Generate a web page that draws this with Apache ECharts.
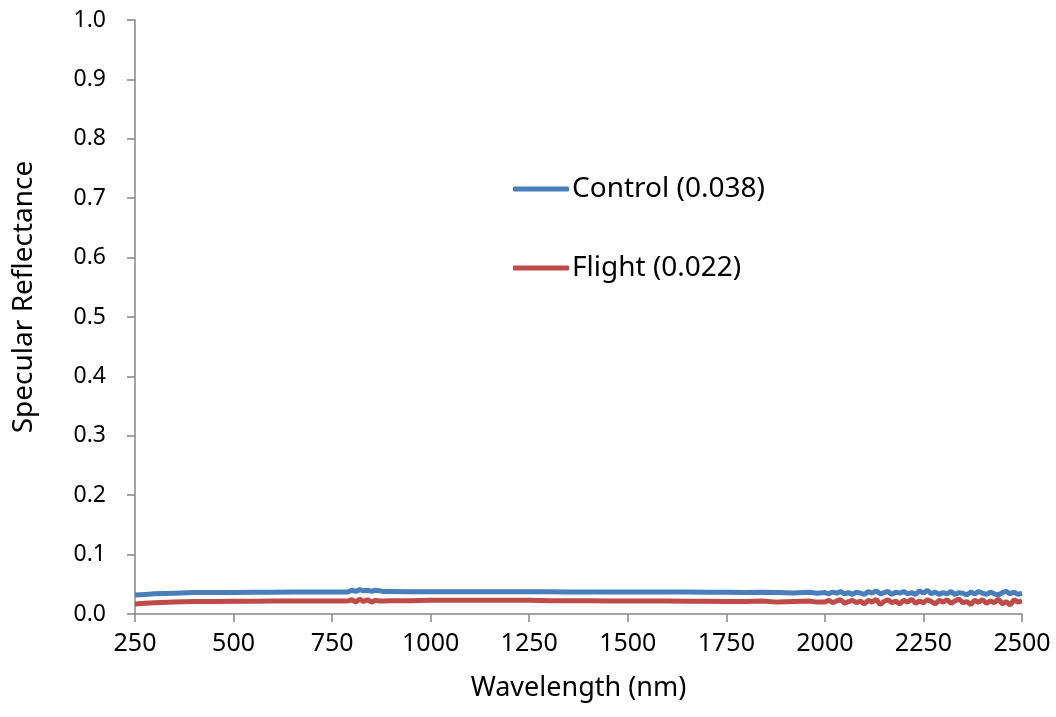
<!DOCTYPE html>
<html>
<head>
<meta charset="utf-8">
<script src="https://cdn.jsdelivr.net/npm/echarts@6/dist/echarts.min.js"></script>
<style>
  html, body { margin: 0; padding: 0; background: #fff; }
  #chart { width: 1056px; height: 717px; }
</style>
</head>
<body>
<div id="chart"></div>
<script>
// wavelength samples (nm)
const wavelength = [
  250, 275, 300, 350, 400, 450, 500, 550, 600, 650, 700, 750, 790,
  800, 810, 820, 830, 840, 850, 860, 870, 880, 900, 950,
  1000, 1050, 1100, 1150, 1200, 1250, 1300, 1350, 1400, 1450, 1500,
  1550, 1600, 1650, 1700, 1750, 1800, 1840, 1880, 1920, 1960, 1980,
  2000, 2010, 2020, 2030, 2040, 2050, 2060, 2070, 2080, 2090,
  2100, 2110, 2120, 2130, 2140, 2150, 2160, 2170, 2180, 2190,
  2200, 2210, 2220, 2230, 2240, 2250, 2260, 2270, 2280, 2290,
  2300, 2310, 2320, 2330, 2340, 2350, 2360, 2370, 2380, 2390,
  2400, 2410, 2420, 2430, 2440, 2450, 2460, 2470, 2480, 2490,
  2500
]
const control = [
  0.032, 0.033, 0.034, 0.035, 0.036, 0.036, 0.036, 0.0365, 0.0365, 0.037, 0.037, 0.037, 0.037,
  0.040, 0.038, 0.041, 0.039, 0.040, 0.038, 0.040, 0.039, 0.038, 0.038, 0.0375,
  0.0375, 0.0375, 0.0375, 0.0375, 0.0375, 0.0375, 0.0375, 0.037, 0.037, 0.037, 0.037,
  0.037, 0.037, 0.037, 0.0365, 0.0365, 0.036, 0.0365, 0.036, 0.0355, 0.0365, 0.035,
  0.036, 0.034, 0.037, 0.035, 0.038, 0.034, 0.036, 0.033, 0.037, 0.035,
  0.033, 0.038, 0.035, 0.039, 0.034, 0.036, 0.038, 0.033, 0.037, 0.035,
  0.038, 0.034, 0.036, 0.033, 0.039, 0.035, 0.040, 0.034, 0.037, 0.033,
  0.036, 0.034, 0.038, 0.033, 0.036, 0.035, 0.032, 0.037, 0.034, 0.038,
  0.035, 0.033, 0.037, 0.034, 0.032, 0.036, 0.038, 0.034, 0.037, 0.033,
  0.035
]
const flight = [
  0.017, 0.018, 0.019, 0.020, 0.021, 0.021, 0.0215, 0.0215, 0.022, 0.022, 0.022, 0.022, 0.022,
  0.024, 0.020, 0.025, 0.021, 0.024, 0.020, 0.023, 0.022, 0.022, 0.0225, 0.0225,
  0.023, 0.023, 0.023, 0.023, 0.023, 0.023, 0.0225, 0.0225, 0.0225, 0.022, 0.022,
  0.022, 0.022, 0.0215, 0.0215, 0.021, 0.021, 0.022, 0.020, 0.021, 0.022, 0.020,
  0.020, 0.023, 0.019, 0.022, 0.024, 0.018, 0.021, 0.023, 0.019, 0.022,
  0.017, 0.023, 0.020, 0.025, 0.016, 0.021, 0.024, 0.019, 0.022, 0.017,
  0.023, 0.020, 0.025, 0.018, 0.022, 0.019, 0.024, 0.021, 0.017, 0.023,
  0.020, 0.024, 0.018, 0.022, 0.025, 0.019, 0.021, 0.016, 0.023, 0.020,
  0.024, 0.018, 0.022, 0.019, 0.025, 0.017, 0.021, 0.015, 0.024, 0.020,
  0.022
]
const seriesNames = ['Control (0.038)', 'Flight (0.022)']
const seriesColors = ['#4a7ebb', '#be4b48']

const font = 'Noto Sans'
const axisGray = '#868686'

let myChart = echarts.init(document.getElementById('chart'))
myChart.setOption({
  animation: false,
  textStyle: { fontFamily: font },
  grid: {
    left: 135,
    right: 34,
    top: 20,
    bottom: 103
  },
  legend: {
    orient: 'vertical',
    left: 508,
    top: 170,
    itemGap: 51,
    itemWidth: 56,
    itemHeight: 5,
    icon: 'roundRect',
    textStyle: {
      fontSize: 28,
      color: '#000',
      fontFamily: font,
      padding: [0, 0, 0, -2]
    },
    data: seriesNames
  },
  xAxis: {
    type: 'value',
    min: 250,
    max: 2500,
    interval: 250,
    name: 'Wavelength (nm)',
    nameLocation: 'middle',
    nameGap: 61,
    nameTextStyle: { fontSize: 27, color: '#000' },
    axisLine: { lineStyle: { color: axisGray, width: 1.5 } },
    axisTick: { length: 8, lineStyle: { color: axisGray, width: 1.5 } },
    axisLabel: {
      fontSize: 25,
      color: '#000',
      margin: 17,
      formatter: v => String(v)
    },
    splitLine: { show: false }
  },
  yAxis: {
    type: 'value',
    min: 0,
    max: 1,
    interval: 0.1,
    name: 'Specular Reflectance',
    nameLocation: 'middle',
    nameGap: 97,
    nameTextStyle: { fontSize: 28, color: '#000', padding: [0, 0, 0, 40] },
    axisLine: { show: true, lineStyle: { color: axisGray, width: 1.5 } },
    axisTick: { show: true, length: 8, lineStyle: { color: axisGray, width: 1.5 } },
    axisLabel: {
      fontSize: 23,
      color: '#000',
      margin: 29,
      formatter: v => v.toFixed(1)
    },
    splitLine: { show: false }
  },
  series: seriesNames.map((name, k) => ({
    name: name,
    type: 'line',
    symbol: 'none',
    data: wavelength.map((w, i) => [w, (k === 0 ? control : flight)[i]]),
    lineStyle: { color: seriesColors[k], width: 5 },
    itemStyle: { color: seriesColors[k] }
  }))
})
</script>
</body>
</html>
